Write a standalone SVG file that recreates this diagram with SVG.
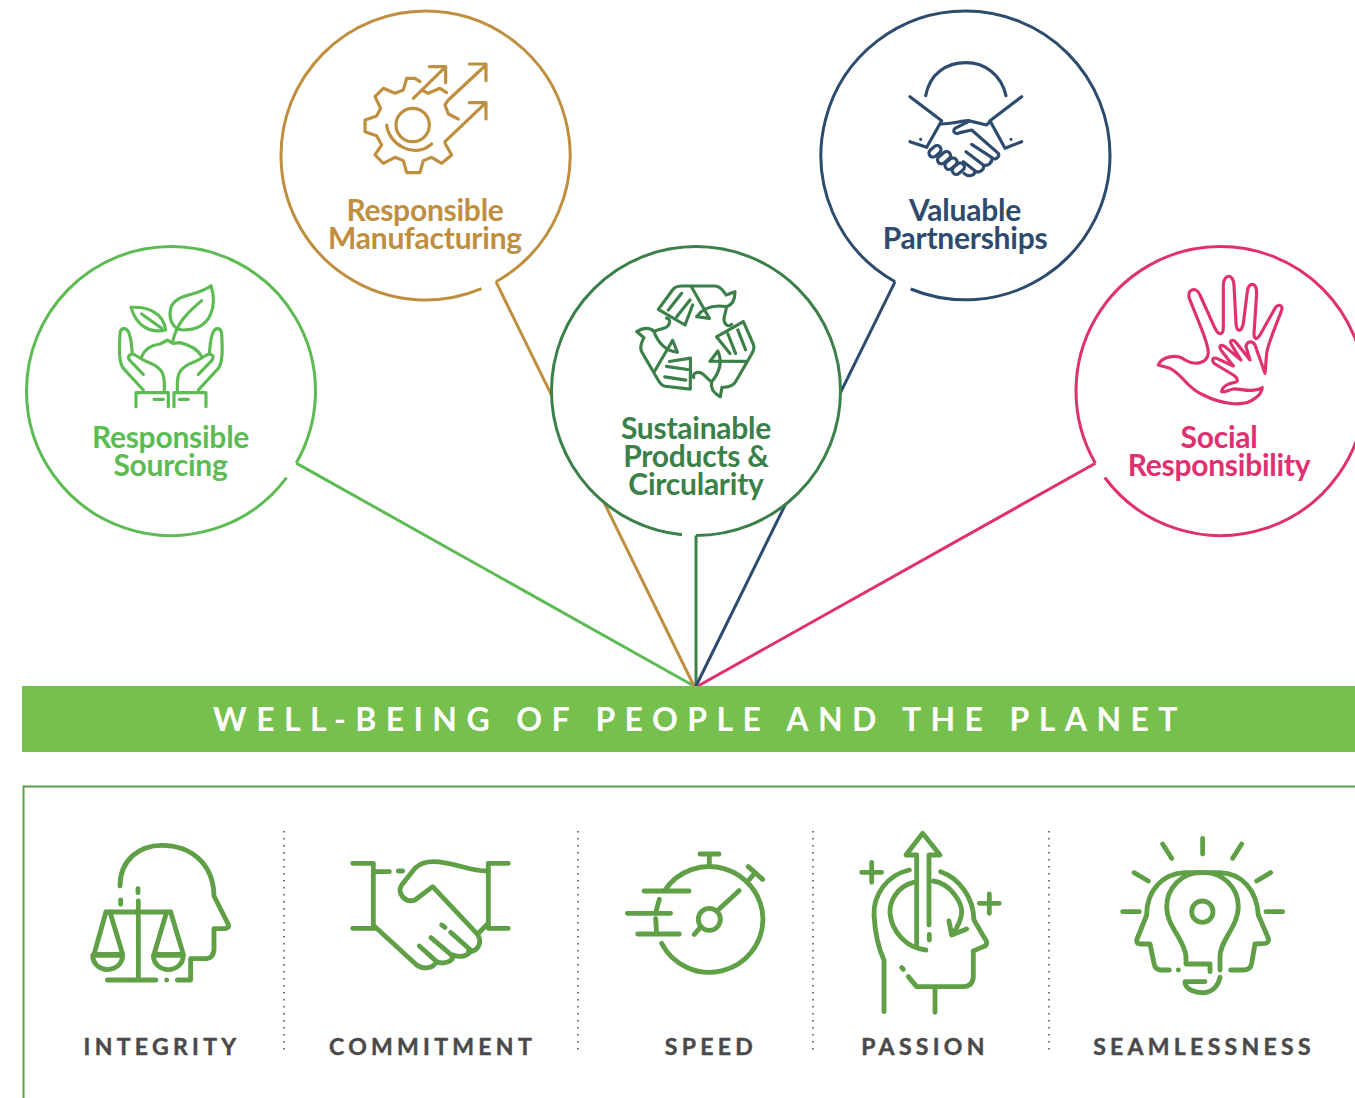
<svg xmlns="http://www.w3.org/2000/svg" xmlns:xlink="http://www.w3.org/1999/xlink" width="1355" height="1098" viewBox="0 0 1355 1098">
<style>
.t{font-family:Lato,"Liberation Sans",sans-serif;font-weight:700;font-size:30px;text-anchor:middle;letter-spacing:-0.25px}
.c{stroke-width:3;fill:#fff}
.i{fill:none;stroke-width:9.5;stroke-linecap:round;stroke-linejoin:round}
.b{fill:none;stroke:#5f9f45;stroke-width:14.5;stroke-linecap:round;stroke-linejoin:round}
.l{font-family:Lato,"Liberation Sans",sans-serif;font-weight:700;font-size:23px;fill:#4a4a4a;stroke:#4a4a4a;stroke-width:.45;text-anchor:middle;letter-spacing:4.3px}
.d{stroke:#777;stroke-width:2;stroke-dasharray:1.5 5.5;fill:none}
</style>
<rect width="1355" height="1098" fill="#fff"/>
<g id="connectors" fill="none" stroke-width="3">
<path d="M296.200 463.100L694 686" stroke="#5dbb53"/>
<path d="M495.900 281.700L694 686" stroke="#bf8f3f"/>
<path d="M696 535V686" stroke="#3b7f49"/>
<path d="M895.100 281.700L696 686" stroke="#2d4b6e"/>
<path d="M1095.400 463.300L698 686" stroke="#e0306f"/>
</g>
<g id="node-sourcing">
<path class="c" stroke="#5dbb53" d="M286.600 477.700A144.500 144.500 0 0 1 26.500 391A144.500 144.500 0 0 1 171 246.500A144.500 144.500 0 0 1 296.200 463.100"/>
<g class="i" stroke="#5dbb53" transform="translate(20 240) scale(.3333)">
<path d="M333 202C380 200 430 215 437 270C390 280 350 260 333 202ZM365 222L425 265"/>
<path d="M573 137C590 190 580 270 490 270C460 270 445 240 452 205C465 160 530 170 573 137ZM545 182C500 220 470 250 458 305"/>
<path d="M365 350C375 325 395 315 420 312L443 300L458 310L480 308C510 315 535 330 545 350"/>
<path d="M370 450L310 385C295 365 298 320 300 280C302 262 318 262 325 275C335 295 335 325 337 342M370 403L330 362C320 350 330 337 345 345L365 357C385 370 410 370 425 395C435 410 433 430 433 450"/>
<path d="M535 450L595 385C610 365 607 320 605 280C603 262 587 262 580 275C570 295 570 325 568 342M535 403L575 362C585 350 575 337 560 345L540 357C520 370 495 370 480 395C470 410 472 430 472 450"/>
<path d="M348 500V458H445V500M462 500V458H558V500M402 478H430M478 478H505"/>
</g>
<text class="t" x="170.500" y="447.500" fill="#5dbb53">Responsible</text>
<text class="t" x="170.500" y="475.500" fill="#5dbb53">Sourcing</text>
</g>
<g id="node-manufacturing">
<path class="c" stroke="#bf8f3f" d="M481.500 288.700A144.500 144.500 0 0 1 281 155.500A144.500 144.500 0 0 1 425.500 11A144.500 144.500 0 0 1 495.900 281.700"/>
<g class="i" stroke="#bf8f3f" transform="translate(340 40) scale(.3333)">
<path d="M240 125L225 115H200L190 150L165 160L130 145L105 170L122 205L110 228L75 240V275L110 287L125 315L105 345L130 370L165 352L190 362L200 398H240L250 362L275 352L305 370L335 345L315 310"/>
<circle cx="218" cy="255" r="50"/>
<path d="M140 255C145 310 220 360 275 312"/>
<path d="M220 175L315 82M268 80H317V128M245 150L265 160L300 145L320 158"/>
<path d="M325 180L438 75M388 72H438V122M325 180L315 195L325 222L355 237"/>
<path d="M315 305L438 188M388 188H438V237"/>
</g>
<text class="t" x="425" y="220.500" fill="#bf8f3f">Responsible</text>
<text class="t" x="425" y="248.500" fill="#bf8f3f">Manufacturing</text>
</g>
<g id="node-products">
<path class="c" stroke="#3b7f49" d="M682 534.800A144.500 144.500 0 0 1 551.500 391A144.500 144.500 0 0 1 696 246.500A144.500 144.500 0 0 1 840.500 391A144.500 144.500 0 0 1 696 535.500"/>
<g transform="translate(620 275) scale(.3333)">
<g id="rec" class="i" stroke="#3b7f49">
<path d="M115 103L160 42Q168 33 185 33H285Q300 33 315 55M215 37L268 130M115 103L195 150L218 90M145 105L185 55M170 125L210 75"/>
<path d="M230 125C255 90 290 90 320 95M230 125L268 130M318 60L345 50C345 75 335 90 320 95L312 130C310 145 325 160 335 148"/>
</g>
<use xlink:href="#rec" href="#rec" transform="rotate(120 232 195)"/>
<use xlink:href="#rec" href="#rec" transform="rotate(240 232 195)"/>
</g>
<text class="t" x="696" y="438.500" fill="#3b7f49">Sustainable</text>
<text class="t" x="696" y="466.500" fill="#3b7f49">Products &amp;</text>
<text class="t" x="696" y="494.500" fill="#3b7f49">Circularity</text>
</g>
<g id="node-partnerships">
<path class="c" stroke="#2d4b6e" d="M895.100 281.700A144.500 144.500 0 0 1 965.500 11A144.500 144.500 0 0 1 1110 155.500A144.500 144.500 0 0 1 910.700 289"/>
<g class="i" stroke="#2d4b6e" transform="translate(880 50) scale(.3333)">
<path d="M137 137C150 70 200 38 258 38C315 38 365 75 378 137"/>
<path d="M90 140L185 212L140 292L90 275M425 140L330 212L375 295L425 275"/>
<path d="M185 222C210 222 235 215 265 212L320 225L330 215"/>
<path d="M265 215L225 235C215 245 228 255 240 248L275 240L355 310C360 322 345 332 335 322L275 283M335 322C340 338 322 350 310 345L258 305M310 345C315 360 295 372 285 362L250 335M285 362C285 378 265 382 252 370"/>
<rect x="145" y="292" width="40" height="24" rx="12" transform="rotate(-40 165 304)"/>
<rect x="170" y="311" width="44" height="24" rx="12" transform="rotate(-40 192 323)"/>
<rect x="193" y="329" width="40" height="24" rx="12" transform="rotate(-40 213 341)"/>
<rect x="215" y="344" width="40" height="24" rx="12" transform="rotate(-40 235 356)"/>
<path d="M122 268V268.100M393 268V268.100"/>
</g>
<text class="t" x="965" y="220.500" fill="#2d4b6e">Valuable</text>
<text class="t" x="965" y="248.500" fill="#2d4b6e">Partnerships</text>
</g>
<g id="node-social">
<path class="c" stroke="#e0306f" d="M1095.400 463.300A144.500 144.500 0 0 1 1220.500 246.500A144.500 144.500 0 0 1 1365 391A144.500 144.500 0 0 1 1104.700 477.500"/>
<g class="i" stroke="#e0306f" transform="translate(1140 265) scale(.3333)">
<path d="M55 300C65 275 110 265 135 285C160 300 200 300 205 265C205 240 190 205 180 180L148 100C140 70 170 65 180 90L225 190C235 210 250 215 250 185L250 60C252 25 280 25 282 60L288 175C290 205 305 200 310 175L322 80C325 50 350 50 350 85L342 205C342 225 350 225 360 210L405 130C415 115 430 120 425 135C415 165 385 230 380 265L375 325L345 240C335 225 320 230 318 245L330 285L290 235C280 220 265 225 275 240L303 285L255 245C240 235 235 245 245 258L280 303L230 280C215 275 215 290 225 297L280 330C295 340 295 350 285 352C265 355 245 365 245 380C250 385 265 375 280 372C300 370 340 385 367 368C365 380 360 390 345 400C310 430 240 415 190 390C140 370 130 330 90 310L55 300Z"/>
</g>
<text class="t" x="1219" y="447.500" fill="#e0306f">Social</text>
<text class="t" x="1219" y="475.500" fill="#e0306f">Responsibility</text>
</g>
<g id="band">
<rect x="22" y="686" width="1333" height="66" fill="#76c04e"/>
<text x="700" y="731" font-family="Lato,'Liberation Sans',sans-serif" font-weight="700" font-size="32" fill="#fff" text-anchor="middle" letter-spacing="9.400">WELL-BEING OF PEOPLE AND THE PLANET</text>
</g>
<g id="values">
<path d="M1355 786.500H23.500V1098" fill="none" stroke="#5f9f45" stroke-width="2"/>
<path class="d" d="M284 831V1055M578 831V1055M813 831V1055M1049 831V1055"/>
</g>
<g id="value-integrity">
<g class="b" transform="translate(70 826) scale(.3333)">
<path d="M150 180C150 100 210 58 275 58C360 58 430 110 432 210L475 295Q480 305 465 308H432V370Q430 398 405 398H362V462H322M112 462H258M290 462V462.100M205 225V462M204 188V200M152 222V235M108 258H302"/>
<path d="M108 258L72 385H158L120 258M68 388C70 445 155 445 158 388ZM302 258L340 385H252L290 258M250 388C252 445 338 445 340 388Z"/>
</g>
<text class="l" x="162" y="1055">INTEGRITY</text>
</g>
<g id="value-commitment">
<g class="b" transform="translate(340 845) scale(.3333)">
<path d="M38 55H100V250M38 250H105M100 80H148M175 78H188M505 55H445V250H505"/>
<path d="M445 78C390 80 340 50 280 50C255 50 240 55 225 70L185 120C170 145 195 175 225 165L278 125L410 265C430 290 415 320 385 320"/>
<path d="M105 245L230 360C250 375 280 370 290 350C310 360 340 350 340 330C365 340 390 330 390 315M238 303L290 350M273 278L340 335M332 262L395 318M305 240L315 247M445 235L415 265"/>
</g>
<text class="l" x="432.500" y="1055">COMMITMENT</text>
</g>
<g id="value-speed">
<g class="b" transform="translate(615 840) scale(.3333)">
<path d="M150 150A161 161 0 0 1 444 238A161 161 0 0 1 140 310M133 178L122 218M122 235L125 282M87 153H222M37 220H167M68 282H193M255 42H312M283 42V76M400 80L443 118M420 98L402 120M307 212L372 152M258 260L238 283"/>
<circle cx="283" cy="238" r="33"/>
</g>
<text class="l" x="711" y="1055">SPEED</text>
</g>
<g id="value-passion">
<g class="b" transform="translate(850 825) scale(.3333)">
<path d="M200 362V90H168L218 25L270 90H237V300M238 328V345"/>
<path d="M190 172C140 185 118 230 120 265C125 320 170 370 228 375M250 168C300 175 335 230 335 260C335 280 320 310 308 328M297 288L305 330L350 312"/>
<path d="M178 135C110 150 70 210 72 270C75 320 85 370 102 405V560M272 140C330 160 370 220 372 285L410 350Q412 362 400 365L370 378V455Q368 485 340 485H200L175 455M155 428L160 433M255 485V562"/>
<path d="M35 142H95M65 112V172M388 235H448M418 207V265"/>
</g>
<text class="l" x="925" y="1055">PASSION</text>
</g>
<g id="value-seamlessness">
<g class="b" transform="translate(1110 830) scale(.3333)">
<path d="M278 25V72M158 42L185 85M72 128L115 153M38 245H88M395 42L368 85M482 128L440 153M468 245H518"/>
<path d="M225 128H330M225 128C160 130 110 180 110 255L80 330Q78 340 90 342H120L132 400Q135 420 155 420H178M205 420V420.100M330 128C395 130 440 180 445 255L475 325Q478 338 465 340L435 342L425 400Q422 420 400 420H362"/>
<path d="M278 128C215 125 170 175 170 230C170 290 225 330 228 380V402H300V425M278 128C340 125 385 175 385 230C385 290 330 330 330 380V420"/>
<circle cx="277" cy="245" r="32"/>
<path d="M285 455H225C225 480 260 490 285 488C310 485 325 465 330 442"/>
</g>
<text class="l" x="1204" y="1055">SEAMLESSNESS</text>
</g>
</svg>
